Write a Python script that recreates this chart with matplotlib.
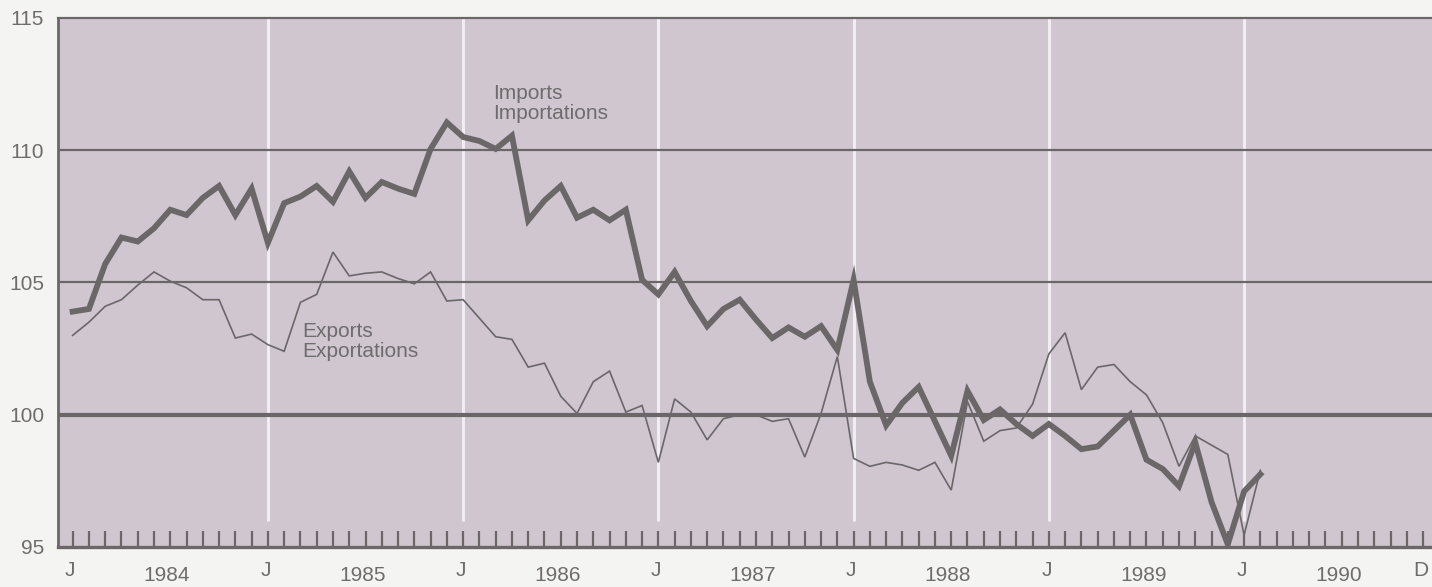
import numpy as np
import matplotlib.pyplot as plt

# =========================
# DATA (monthly, Jan 1984 onwards)
# =========================

imports = [103.9, 104.0, 105.7, 106.7, 106.55, 107.05, 107.75, 107.55, 108.2, 108.65, 107.55, 108.55,
           106.5, 108.0, 108.25, 108.65, 108.05, 109.2, 108.2, 108.8, 108.55, 108.35, 110.05, 111.05,
           110.5, 110.35, 110.05, 110.55, 107.35, 108.1, 108.65, 107.45, 107.75, 107.35, 107.75, 105.1,
           104.55, 105.4, 104.3, 103.35, 104.0, 104.35, 103.6, 102.9, 103.3, 102.95, 103.35, 102.45,
           105.1, 101.25, 99.6, 100.45, 101.05, 99.75, 98.45, 100.9, 99.8, 100.2, 99.65, 99.2,
           99.65, 99.2, 98.7, 98.8, 99.4, 100.0, 98.3, 97.95, 97.3, 98.95, 96.7, 95.1,
           97.1, 97.75]

exports = [103.0, 103.5, 104.1, 104.35, 104.9, 105.4, 105.05, 104.8, 104.35, 104.35, 102.9, 103.05,
           102.65, 102.4, 104.25, 104.55, 106.15, 105.25, 105.35, 105.4, 105.15, 104.95, 105.4, 104.3,
           104.35, 103.65, 102.95, 102.85, 101.8, 101.95, 100.7, 100.05, 101.25, 101.65, 100.1, 100.35,
           98.2, 100.6, 100.1, 99.05, 99.85, 100.0, 100.0, 99.75, 99.85, 98.4, 100.05, 102.2,
           98.35, 98.05, 98.2, 98.1, 97.9, 98.2, 97.15, 100.5, 99.0, 99.4, 99.5, 100.4,
           102.3, 103.1, 100.95, 101.8, 101.9, 101.25, 100.75, 99.7, 98.05, 99.2, 98.85, 98.5,
           95.45, 97.9]

years = ["1984", "1985", "1986", "1987", "1988", "1989", "1990"]
month_labels = ["J", "J", "J", "J", "J", "J", "J", "D"]
month_label_pos = [0, 12, 24, 36, 48, 60, 72, 83]
y_ticks = [95, 100, 105, 110, 115]

n_months = 84
months = np.arange(len(imports))

# =========================
# STYLE
# =========================

bg = "#cfc6cf"
ink = "#6b6769"
txt = "#6e6c6c"
fs = 15
plt.rcParams["font.family"] = ["Liberation Sans", "DejaVu Sans"]

fig = plt.figure(figsize=(14.32, 5.87), dpi=100, facecolor="#f4f4f2")
ax = fig.add_axes([58 / 1432, 1 - 547 / 587, 1 - 58 / 1432, (547 - 18) / 587])
ax.set_facecolor(bg)

ax.set_xlim(-0.9, 83.55)
ax.set_ylim(95, 115)

# white year separators
for m in range(12, n_months, 12):
    ax.plot([m, m], [96.0, 115], color="#f1edf1", lw=2.2, zorder=1, solid_capstyle="butt")

# horizontal reference lines
ax.axhline(105, color=ink, lw=1.6, zorder=2)
ax.axhline(110, color=ink, lw=1.6, zorder=2)
ax.axhline(100, color=ink, lw=3.0, zorder=2)

# =========================
# SERIES
# =========================

ax.plot(months, exports, color=ink, lw=1.2, zorder=3, solid_joinstyle="miter")
ax.plot(months, imports, color=ink, lw=4.2, zorder=4, solid_joinstyle="miter")

ax.text(25.85, 111.77, "Imports\nImportations", color=txt, fontsize=fs,
        ha="left", va="center", linespacing=1.05)
ax.text(14.14, 102.78, "Exports\nExportations", color=txt, fontsize=fs,
        ha="left", va="center", linespacing=1.05)

# =========================
# AXES
# =========================

for side in ["top", "left", "bottom"]:
    ax.spines[side].set_color(ink)
ax.spines["top"].set_linewidth(1.6)
ax.spines["left"].set_linewidth(2.0)
ax.spines["bottom"].set_linewidth(2.4)
ax.spines["right"].set_visible(False)

ax.set_xticks(np.arange(n_months))
ax.tick_params(axis="x", direction="in", length=11.5, width=1.6, color=ink,
               labelbottom=False)
ax.set_yticks(y_ticks)
ax.set_yticklabels([str(v) for v in y_ticks], color=txt, fontsize=fs)
ax.tick_params(axis="y", length=0, pad=10)

xt = ax.get_xaxis_transform()
for pos, lab in zip(month_label_pos, month_labels):
    ax.text(pos - 0.15, -0.045, lab, transform=xt, ha="center", va="center",
            color=txt, fontsize=fs, clip_on=False)
for i, yr in enumerate(years):
    ax.text(5.8 + 12 * i, -0.071, yr, transform=xt, ha="center", va="bottom",
            color=txt, fontsize=fs, clip_on=False)

fig.savefig("out.png", dpi=100, facecolor=fig.get_facecolor())
